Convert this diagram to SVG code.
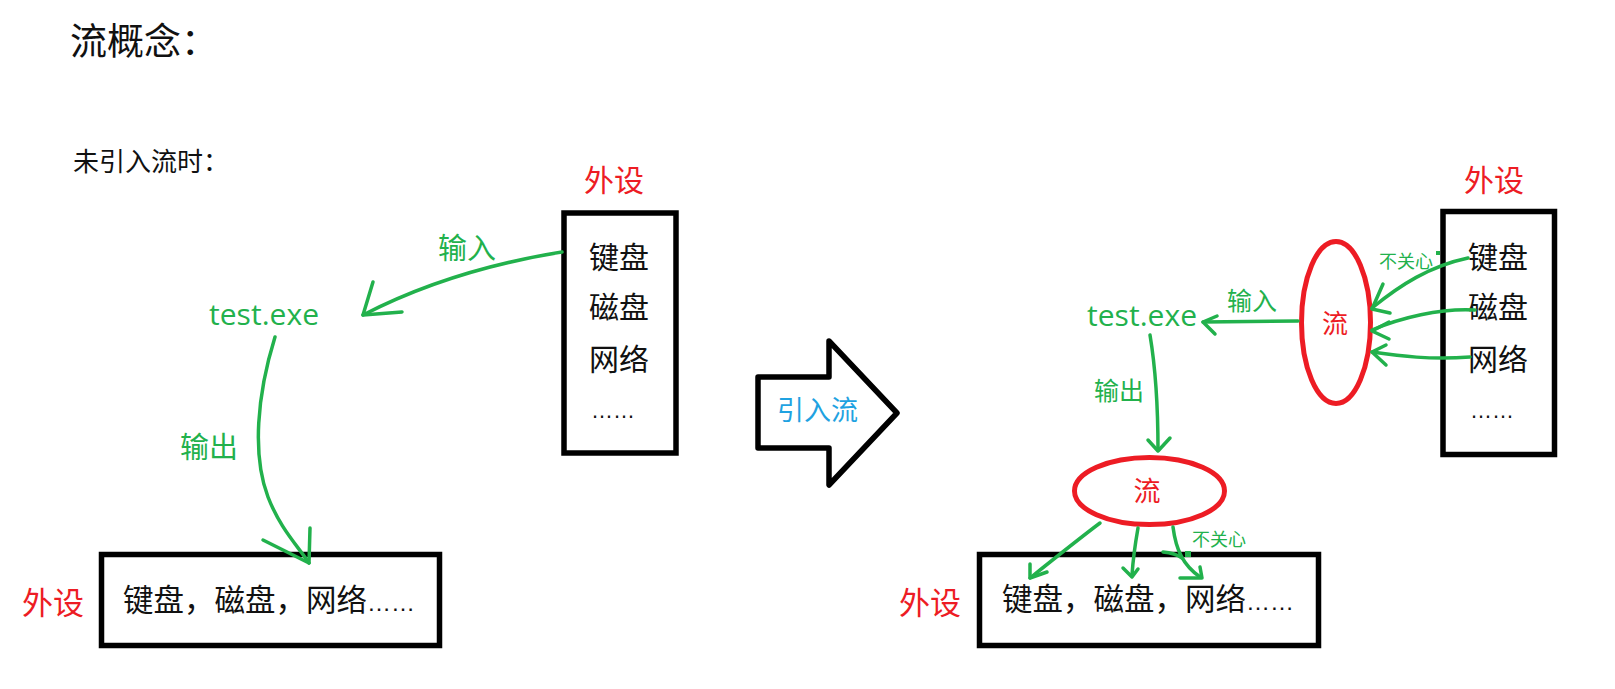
<svg xmlns="http://www.w3.org/2000/svg" width="1615" height="689" viewBox="0 0 1615 689">
<style>
.cjk{font-family:"Noto Sans CJK SC","Noto Sans",sans-serif}
.blk{fill:#111}
.red{fill:#ed1c24}
.grn{fill:#22b14c}
.box{fill:none;stroke:#000;stroke-width:5.5}
.ell{fill:none;stroke:#ed1c24;stroke-width:5}
.ln{fill:none;stroke:#22b14c;stroke-width:3.5;stroke-linecap:round;stroke-linejoin:round}
.lat{font-family:"Open Sans","Noto Sans",sans-serif}
.dots{font-family:"Liberation Sans",Arial,sans-serif}
</style>
<rect width="1615" height="689" fill="#fff"/>
<g id="titles">
<text class="cjk blk" x="70" y="55" font-size="37">流概念：</text>
<text class="cjk blk" x="73" y="171" font-size="26">未引入流时：</text>
</g>
<g id="left-devices">
<text class="cjk red" x="584" y="191" font-size="30">外设</text>
<rect class="box" x="564" y="213" width="112" height="240"/>
<text class="cjk blk" x="589" y="268" font-size="30">键盘</text>
<text class="cjk blk" x="589" y="318" font-size="30">磁盘</text>
<text class="cjk blk" x="589" y="370" font-size="30">网络</text>
<text class="dots blk" x="591" y="418" font-size="22">……</text>
</g>
<g id="left-program">
<text class="lat grn" x="209" y="325" font-size="30" textLength="110">test.exe</text>
</g>
<g id="left-output-devices">
<text class="cjk red" x="22" y="614" font-size="31">外设</text>
<rect class="box" x="101.5" y="554.5" width="338" height="91"/>
<text class="cjk blk" x="123" y="611" font-size="30.5">键盘，磁盘，网络<tspan class="dots" font-size="24">……</tspan></text>
</g>
<g id="big-arrow">
<polygon points="758,377 829,377 829,341 897,413 829,485 829,448 758,448" fill="#fff" stroke="#000" stroke-width="5.5" stroke-linejoin="round"/>
<text class="cjk" x="777" y="420" font-size="27" fill="#1fa2e1">引入流</text>
</g>
<g id="right-devices">
<text class="cjk red" x="1464" y="191" font-size="30">外设</text>
<rect class="box" x="1443" y="211.5" width="111.5" height="243"/>
<text class="cjk blk" x="1468" y="268" font-size="30">键盘</text>
<text class="cjk blk" x="1468" y="318" font-size="30">磁盘</text>
<text class="cjk blk" x="1468" y="370" font-size="30">网络</text>
<text class="dots blk" x="1470" y="418" font-size="22">……</text>
</g>
<g id="input-stream">
<ellipse class="ell" cx="1336" cy="322.5" rx="34.5" ry="81"/>
<text class="cjk red" x="1335" y="333" font-size="26" text-anchor="middle">流</text>
</g>
<g id="right-program">
<text class="lat grn" x="1087" y="326" font-size="30" textLength="110">test.exe</text>
</g>
<g id="output-stream">
<ellipse class="ell" cx="1149.5" cy="491" rx="75" ry="33.5"/>
<text class="cjk red" x="1147" y="501" font-size="27" text-anchor="middle">流</text>
</g>
<g id="right-output-devices">
<text class="cjk red" x="899" y="614" font-size="31">外设</text>
<rect class="box" x="979.5" y="554.5" width="339" height="91"/>
<text class="cjk blk" x="1002" y="610" font-size="30.5">键盘，磁盘，网络<tspan class="dots" font-size="24">……</tspan></text>
</g>
<g id="connectors">
<path class="ln" d="M562,252 Q450,270 363,315"/>
<path class="ln" d="M373,282 L363,315 L402,312"/>
<path class="ln" d="M275,337 C257,395 252,455 268,497 C280,528 297,545 309,563"/>
<path class="ln" d="M263,540 L309,563 L310,528"/>
<path class="ln" d="M1298,321 L1203,322"/>
<path class="ln" d="M1217,316 L1203,322 L1215,334"/>
<path class="ln" d="M1150,335 C1155,365 1158,400 1158,450"/>
<path class="ln" d="M1148,440 L1158,451 L1170,438"/>
<path class="ln" d="M1468,258 C1430,266 1400,285 1372,308"/>
<path class="ln" d="M1383,284 L1372,309 L1390,313"/>
<path class="ln" d="M1475,310 C1440,308 1400,318 1372,330"/>
<path class="ln" d="M1389,322 L1372,331 L1389,339"/>
<path class="ln" d="M1470,357 C1430,360 1400,356 1372,352"/>
<path class="ln" d="M1386,345 L1372,352 L1386,365"/>
<path class="ln" d="M1100,523 C1080,538 1055,558 1030,578"/>
<path class="ln" d="M1030,564 L1030,578 L1047,572"/>
<path class="ln" d="M1138,528 C1135,545 1133,560 1132,575"/>
<path class="ln" d="M1123,568 L1132,577 L1138,569"/>
<path class="ln" d="M1173,527 C1176,550 1183,565 1200,577"/>
<path class="ln" d="M1180,578 L1202,578 L1200,567"/>
<path class="ln" d="M1163,552 Q1175,553 1182,558"/>
<rect x="1185" y="551" width="6" height="6" fill="#22b14c"/>
<rect x="1436" y="251" width="4" height="4" fill="#22b14c"/>
</g>
<g id="labels">
<text class="cjk grn" x="438" y="259" font-size="29">输入</text>
<text class="cjk grn" x="180" y="458" font-size="29">输出</text>
<text class="cjk grn" x="1227" y="310" font-size="25">输入</text>
<text class="cjk grn" x="1094" y="400" font-size="25">输出</text>
<text class="cjk grn" x="1379" y="268" font-size="18">不关心</text>
<text class="cjk grn" x="1192" y="546" font-size="18">不关心</text>
</g>
</svg>
